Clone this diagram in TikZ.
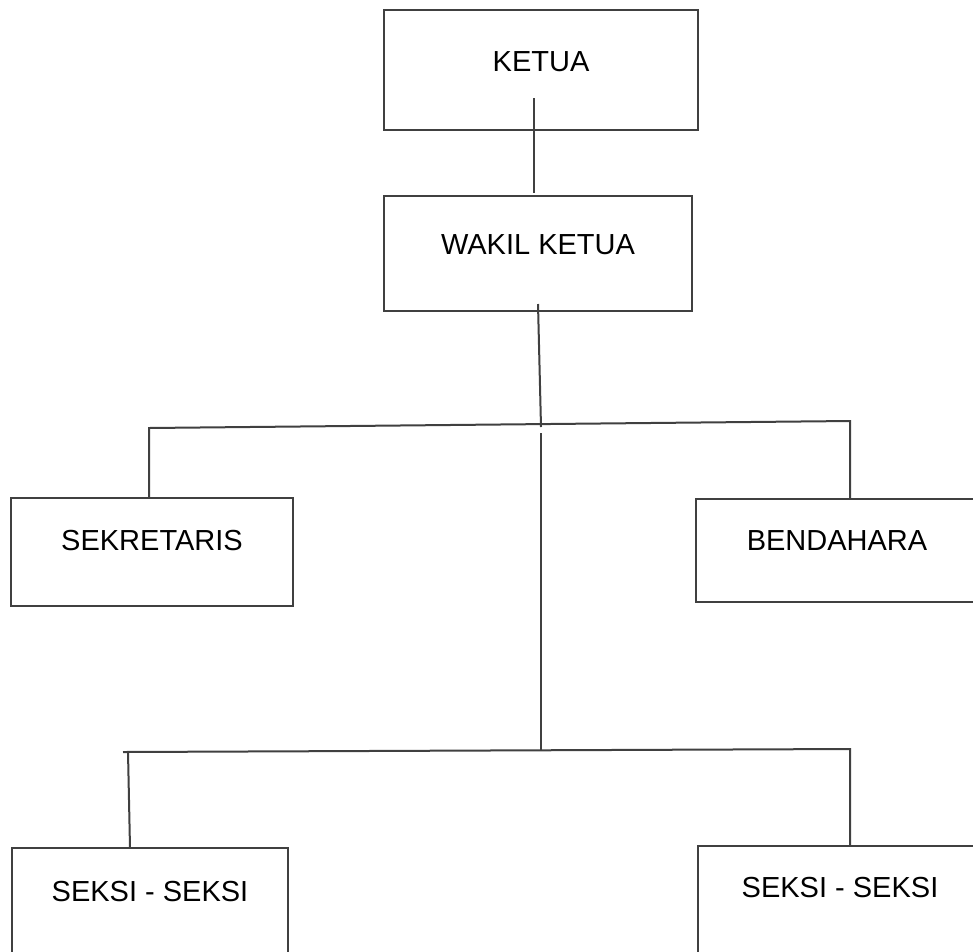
\documentclass[tikz,border=0pt]{standalone}
\usepackage{fontspec}
\setmainfont{Liberation Sans}
\definecolor{linec}{HTML}{404040}
\begin{document}
\begin{tikzpicture}[x=1pt,y=1pt,
  box/.style={draw=linec, line width=2pt, rectangle, anchor=north west, inner sep=0pt, outer sep=0pt},
  lbl/.style={font=\fontsize{29}{34}\selectfont, text=black, inner sep=0pt},
  conn/.style={draw=linec, line width=2pt}]
\clip (0,0) rectangle (973,-951);
\fill[white] (0,0) rectangle (973,-951);
% boxes
\node[box, minimum width=314pt, minimum height=120pt] (ketua) at (384,-10) {};
\node[box, minimum width=308pt, minimum height=115pt] (wakil) at (384,-196) {};
\node[box, minimum width=282pt, minimum height=108pt] (sek) at (11,-498) {};
\node[box, minimum width=300pt, minimum height=103pt] (bend) at (696,-499) {};
\node[box, minimum width=276pt, minimum height=130pt] (seks1) at (12,-848) {};
\node[box, minimum width=300pt, minimum height=130pt] (seks2) at (698,-846) {};
% labels
\node[lbl] (tketua) at (541,-62) {KETUA};
\node[lbl] (twakil) at (538,-245) {WAKIL KETUA};
\node[lbl] (tsek) at (152,-541) {SEKRETARIS};
\node[lbl] (tbend) at (837,-541) {BENDAHARA};
\node[lbl] (tseks1) at (150,-891) {SEKSI - SEKSI};
\node[lbl] (tseks2) at (840,-887) {SEKSI - SEKSI};
% connector points
\coordinate (k1) at (534,-98);
\coordinate (k2) at (534,-193);
\coordinate (w1) at (538,-304);
\coordinate (w2) at (541,-427);
\coordinate (bl) at (149,-428);
\coordinate (br) at (850,-421);
\coordinate (m1) at (541,-433);
\coordinate (m2) at (541,-750);
\coordinate (ll) at (123,-752);
\coordinate (lv) at (128,-752);
\coordinate (lr) at (850,-749);
% connectors
\draw[conn] (k1) -- (k2);
\draw[conn] (w1) -- (w2);
\draw[conn] (sek.north west -| bl) -- (bl) -- (br) -- (br |- bend.north);
\draw[conn] (m1) -- (m2);
\draw[conn] (ll) -- (lr) -- (lr |- seks2.north);
\draw[conn] (lv) -- (130,-848);
\end{tikzpicture}
\end{document}
